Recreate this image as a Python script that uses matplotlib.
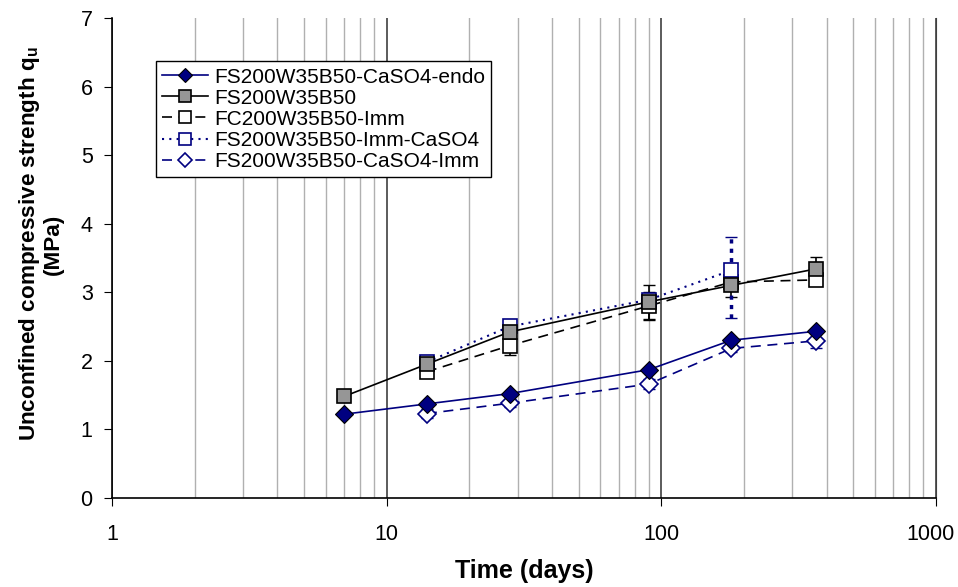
import matplotlib
matplotlib.use("Agg")
import matplotlib.pyplot as plt
import matplotlib.transforms as mtransforms
from matplotlib.ticker import FixedLocator, LogLocator, NullFormatter

plt.rcParams["font.family"] = ["Liberation Sans", "DejaVu Sans"]
plt.rcParams["mathtext.fontset"] = "custom"
plt.rcParams["mathtext.bf"] = "Liberation Sans:bold"
plt.rcParams["mathtext.rm"] = "Liberation Sans"

# DATA
days = [7, 14, 28, 90, 180, 365]
days_imm = [14, 28, 90, 180, 365]
days_imm_caso4 = [14, 28, 90, 180]

endo = [1.22, 1.37, 1.52, 1.87, 2.30, 2.43]
fs = [1.48, 1.95, 2.42, 2.86, 3.10, 3.34]
fs_err = [0.04, 0.04, 0.05, 0.25, 0.17, 0.17]
fc_imm = [1.84, 2.22, 2.80, 3.15, 3.18]
fc_imm_err = [0.05, 0.14, 0.20, 0.03, 0.03]
imm_caso4 = [1.98, 2.50, 2.89, 3.32]
imm_caso4_err_low = [0.03, 0.03, 0.05, 0.69]
imm_caso4_err_high = [0.03, 0.03, 0.05, 0.49]
caso4_imm = [1.23, 1.38, 1.66, 2.18, 2.29]
caso4_imm_err = [0.07, 0.06, 0.07, 0.05, 0.10]

navy = "#000080"

fig = plt.figure(figsize=(9.58, 5.87), dpi=100)
ax = fig.add_axes([0.117, 0.152, 0.860, 0.817])

# ERROR BARS
ax.errorbar(days, fs, yerr=fs_err, fmt="none", ecolor="black", elinewidth=1.2, capsize=4, zorder=2)
ax.errorbar(days_imm, fc_imm, yerr=fc_imm_err, fmt="none", ecolor="black", elinewidth=1.2, capsize=4, zorder=2)
eb = ax.errorbar(days_imm_caso4, imm_caso4, yerr=[imm_caso4_err_low, imm_caso4_err_high], fmt="none",
                 ecolor=navy, elinewidth=2.5, capsize=4, zorder=2)
eb[2][0].set_linestyle((0, (1.2, 1.5)))
ax.errorbar(days_imm, caso4_imm, yerr=caso4_imm_err, fmt="none", ecolor=navy, elinewidth=1.2, capsize=4, zorder=2)

# LINES
ax.plot(days, endo, color=navy, lw=1.2, marker="D", ms=9, mfc=navy, mec="black", mew=0.8,
        label="FS200W35B50-CaSO4-endo", zorder=4)
ax.plot(days, fs, color="black", lw=1.2, marker="s", ms=10, mfc="#969696", mec="black", mew=1.2,
        label="FS200W35B50", zorder=4)
ax.plot(days_imm, fc_imm, color="black", lw=1.2, ls=(0, (6, 4)), marker="s", ms=10, mfc="white",
        mec="black", mew=1.2, label="FC200W35B50-Imm", zorder=3)
ax.plot(days_imm_caso4, imm_caso4, color=navy, lw=1.5, ls=(0, (1, 2.5)), marker="s", ms=10,
        mfc="white", mec=navy, mew=1.2, label="FS200W35B50-Imm-CaSO4", zorder=3)
ax.plot(days_imm, caso4_imm, color=navy, lw=1.2, ls=(0, (6, 4)), marker="D", ms=9, mfc="white",
        mec=navy, mew=1.2, label="FS200W35B50-CaSO4-Imm", zorder=3)

# AXES
ax.set_xscale("log")
ax.set_xlim(1, 1000)
ax.set_ylim(0, 7)
ax.xaxis.set_major_locator(FixedLocator([1, 10, 100, 1000]))
ax.set_xticklabels(["1", "10", "100", "1000"])
ax.xaxis.set_minor_locator(LogLocator(base=10, subs=range(2, 10)))
ax.xaxis.set_minor_formatter(NullFormatter())
ax.tick_params(axis="x", which="minor", length=0)
ax.tick_params(axis="both", which="major", direction="out", length=6, labelsize=15.5)
ax.tick_params(axis="x", which="major", pad=13)
ax.tick_params(axis="y", which="major", pad=8)
ax.set_yticks(range(0, 8))
# nudge "1000" left so it stays inside the figure
last = ax.xaxis.get_major_ticks()[-1].label1
last.set_transform(last.get_transform() + mtransforms.ScaledTranslation(-4 / 72, 0, fig.dpi_scale_trans))

ax.grid(which="minor", axis="x", color="#b0b0b0", lw=1.0)
ax.grid(which="major", axis="x", color="#404040", lw=1.2)
ax.set_axisbelow(True)

ax.spines["top"].set_visible(False)
ax.spines["right"].set_color("#404040")
for s in ["left", "bottom"]:
    ax.spines[s].set_linewidth(1.2)

ax.set_xlabel("Time (days)", fontsize=18, fontweight="bold", labelpad=10)
ax.set_ylabel("Unconfined compressive strength $\\mathbf{q_u}$\n(MPa)", fontsize=16.2,
              fontweight="bold", linespacing=1.0)
ax.yaxis.set_label_coords(-0.059, 0.529)

leg = ax.legend(loc="upper left", bbox_to_anchor=(0.053, 0.91), fontsize=15, frameon=True,
                fancybox=False, edgecolor="black", framealpha=1, handlelength=2.2,
                borderpad=0.3, labelspacing=0.1, handletextpad=0.3, borderaxespad=0,
                markerscale=0.8)
leg.get_frame().set_linewidth(1.0)

fig.savefig("out.png", dpi=100)
